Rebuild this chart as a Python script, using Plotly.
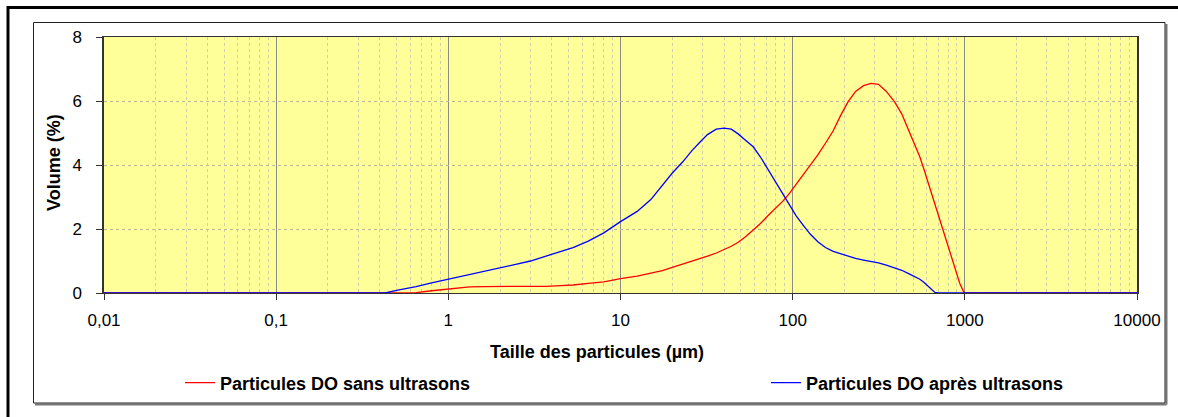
import plotly.graph_objects as go

# Particle size classes (µm)
taille = [0.01, 0.1, 0.3, 0.43, 0.5, 0.65, 0.8, 1, 1.33, 1.6, 2, 2.5, 3, 3.7, 4.5,
          5.3, 6.5, 8, 10, 12.5, 15, 17.5, 20, 23, 26, 29, 32, 36, 40, 44, 48, 53,
          59, 65, 72, 80, 88, 96, 105, 115, 126, 140, 155, 172, 190, 210, 232, 258,
          285, 315, 350, 390, 430, 475, 525, 548, 580, 620, 670, 700, 760, 820, 880,
          935, 980, 1000, 1100, 10000]

# Volume (%) without ultrasound
sans_us = [0, 0, 0, 0, 0, 0.01, 0.07, 0.13, 0.19, 0.2, 0.2, 0.2, 0.2, 0.21, 0.23,
           0.25, 0.3, 0.35, 0.45, 0.53, 0.62, 0.7, 0.8, 0.9, 0.99, 1.08, 1.15, 1.25,
           1.35, 1.46, 1.58, 1.75, 1.97, 2.17, 2.42, 2.66, 2.88, 3.12, 3.4, 3.7, 4.0,
           4.32, 4.68, 5.07, 5.55, 5.98, 6.3, 6.48, 6.55, 6.52, 6.3, 5.98, 5.6, 5.05,
           4.45, 4.25, 3.85, 3.35, 2.75, 2.45, 1.78, 1.23, 0.7, 0.3, 0.06, 0, 0, 0]

# Volume (%) after ultrasound
apres_us = [0, 0, 0, 0, 0.08, 0.2, 0.32, 0.43, 0.57, 0.66, 0.77, 0.9, 1.0, 1.15, 1.3,
            1.42, 1.62, 1.88, 2.23, 2.55, 2.92, 3.35, 3.75, 4.1, 4.45, 4.72, 4.95,
            5.12, 5.15, 5.12, 4.98, 4.78, 4.57, 4.25, 3.85, 3.45, 3.1, 2.72, 2.4, 2.12,
            1.85, 1.6, 1.42, 1.3, 1.22, 1.14, 1.08, 1.03, 0.99, 0.94, 0.87, 0.79, 0.71,
            0.6, 0.48, 0.43, 0.33, 0.19, 0.02, 0, 0, 0, 0, 0, 0, 0, 0, 0]

x_ticks = [0.01, 0.1, 1, 10, 100, 1000, 10000]
x_ticktext = ["0,01", "0,1", "1", "10", "100", "1000", "10000"]
y_ticks = [0, 2, 4, 6, 8]

FONT = "Liberation Sans, Arial, sans-serif"

fig = go.Figure()
fig.add_trace(go.Scatter(x=taille, y=sans_us, mode="lines",
                         name="Particules DO sans ultrasons", legend="legend",
                         line=dict(color="#FF0000", width=1.3)))
fig.add_trace(go.Scatter(x=taille, y=apres_us, mode="lines",
                         name="Particules DO après ultrasons", legend="legend2",
                         line=dict(color="#0000FF", width=1.3)))

# plot area in pixels: x 104..1137, y 37..293
L, R, T, B = 104, 1137, 37, 293
W, H = 1178, 417


def px(xp):
    return (xp - L) / (R - L)


def py(yp):
    return (B - yp) / (B - T)


legend_font = dict(family=FONT, size=18, color="black", weight="bold")

fig.update_layout(
    width=W, height=H,
    margin=dict(l=L, r=W - R, t=T, b=H - B, autoexpand=False),
    paper_bgcolor="white",
    plot_bgcolor="#FFFF99",
    font=dict(family=FONT, size=17, color="black"),
    showlegend=True,
    legend=dict(x=px(180), y=py(383), xanchor="left", yanchor="middle",
                font=legend_font, bgcolor="rgba(0,0,0,0)"),
    legend2=dict(x=px(766), y=py(383), xanchor="left", yanchor="middle",
                 font=legend_font, bgcolor="rgba(0,0,0,0)"),
    xaxis=dict(type="log", range=[-2, 4], tickvals=x_ticks, ticktext=x_ticktext,
               ticks="outside", ticklen=6, tickcolor="#333333", tickwidth=1,
               ticklabelstandoff=6,
               showline=True, linecolor="#333333", linewidth=1, mirror=True,
               showgrid=True, gridcolor="#8C8C84", gridwidth=1,
               minor=dict(dtick="D1", showgrid=True, gridcolor="#CFCFA8",
                          griddash="dot", gridwidth=1),
               zeroline=False),
    yaxis=dict(range=[0, 8], tickvals=y_ticks, ticks="outside", ticklen=6,
               tickcolor="#333333", ticklabelstandoff=11,
               showline=True, linecolor="#333333", linewidth=1.5, mirror=True,
               showgrid=True, gridcolor="#B8B8A0", griddash="dot", gridwidth=1,
               zeroline=False),
    annotations=[
        dict(text="<b>Taille des particules (µm)</b>", xref="paper", yref="paper",
             x=px(597), y=py(352), xanchor="center", yanchor="middle", showarrow=False,
             font=dict(family=FONT, size=18, color="black")),
        dict(text="<b>Volume (%)</b>", xref="paper", yref="paper", textangle=-90,
             x=px(54), y=py(163), xanchor="center", yanchor="middle", showarrow=False,
             font=dict(family=FONT, size=18, color="black")),
    ],
    shapes=[
        # outer frame
        dict(type="rect", xref="paper", yref="paper", x0=px(8), y0=py(430),
             x1=px(1190), y1=py(7.5), line=dict(color="black", width=3), layer="below"),
        # chart area frame with shadow
        dict(type="line", xref="paper", yref="paper", x0=px(35), y0=py(404.5),
             x1=px(1166.5), y1=py(404.5), line=dict(color="#777777", width=2)),
        dict(type="line", xref="paper", yref="paper", x0=px(1166.5), y0=py(24),
             x1=px(1166.5), y1=py(404.5), line=dict(color="#777777", width=2)),
        dict(type="rect", xref="paper", yref="paper", x0=px(33.5), y0=py(403),
             x1=px(1165), y1=py(22.5), line=dict(color="#222222", width=1)),
    ],
)

fig.write_html("out.html")
